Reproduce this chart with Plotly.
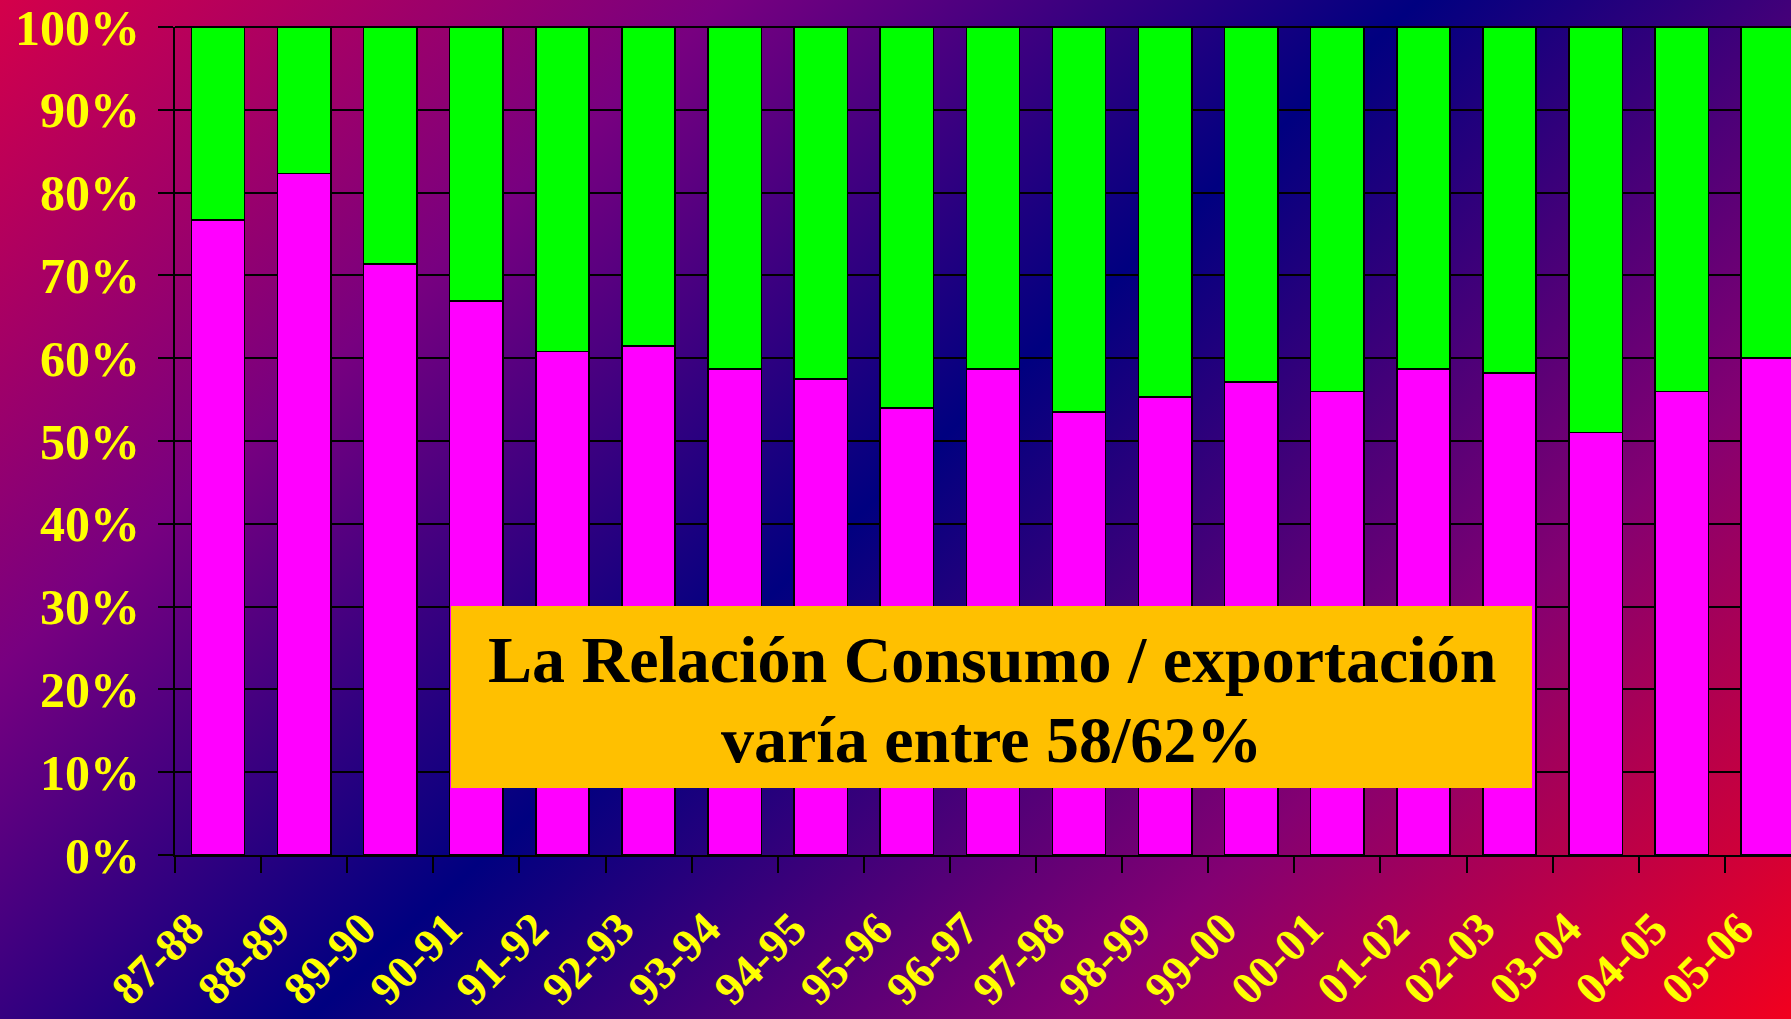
import base64
import plotly.graph_objects as go

# ---- data ----
campanas = ["87-88", "88-89", "89-90", "90-91", "91-92", "92-93", "93-94", "94-95",
            "95-96", "96-97", "97-98", "98-99", "99-00", "00-01", "01-02", "02-03",
            "03-04", "04-05", "05-06"]
consumo = [76.7, 82.3, 71.4, 66.9, 60.8, 61.5, 58.7, 57.5, 54.0, 58.7,
           53.5, 55.3, 57.1, 56.0, 58.7, 58.2, 51.0, 56.0, 60.0]
exportacion = [23.3, 17.7, 28.6, 33.1, 39.2, 38.5, 41.3, 42.5, 46.0, 41.3,
               46.5, 44.7, 42.9, 44.0, 41.3, 41.8, 49.0, 44.0, 40.0]
y_ticks = [0, 10, 20, 30, 40, 50, 60, 70, 80, 90, 100]
y_ticklabels = ["0%", "10%", "20%", "30%", "40%", "50%", "60%", "70%", "80%", "90%", "100%"]
nota_l1 = "La Relación Consumo / exportación"
nota_l2 = "varía entre 58/62%"

# ---- geometry ----
W, H = 1791, 1019
ML, MR, MT, MB = 175, 0, 27, 164
PW, PH = W - ML - MR, H - MT - MB

FONT = "Liberation Serif, Times New Roman, serif"

# background gradient (whole page)
svg = (
    f'<svg xmlns="http://www.w3.org/2000/svg" width="{W}" height="{H}" viewBox="0 0 {W} {H}" '
    f'preserveAspectRatio="none"><defs><linearGradient id="g" gradientUnits="userSpaceOnUse" '
    f'x1="0" y1="0" x2="1326" y2="1446">'
    f'<stop offset="0" stop-color="#D4004A"/>'
    f'<stop offset="0.25" stop-color="#780080"/>'
    f'<stop offset="0.489" stop-color="#000080"/>'
    f'<stop offset="0.75" stop-color="#840072"/>'
    f'<stop offset="1" stop-color="#F2001E"/>'
    f'</linearGradient></defs><rect width="{W}" height="{H}" fill="url(#g)"/></svg>'
)
bg_src = "data:image/svg+xml;base64," + base64.b64encode(svg.encode()).decode()

fig = go.Figure()
fig.add_trace(go.Bar(x=campanas, y=consumo, name="Consumo",
                     marker=dict(color="#FF00FF", line=dict(color="black", width=1.5)),
                     width=0.62))
fig.add_trace(go.Bar(x=campanas, y=exportacion, name="Exportación",
                     marker=dict(color="#00FF00", line=dict(color="black", width=1.5)),
                     width=0.62))

fig.update_layout(
    width=W, height=H,
    margin=dict(l=ML, r=MR, t=MT, b=MB, pad=0, autoexpand=False),
    barmode="stack",
    showlegend=False,
    paper_bgcolor="#000080",
    plot_bgcolor="rgba(0,0,0,0)",
    images=[dict(source=bg_src, xref="paper", yref="paper",
                 x=-ML / PW, y=1 + MT / PH, sizex=W / PW, sizey=H / PH,
                 xanchor="left", yanchor="top", sizing="stretch", layer="below")],
    xaxis=dict(
        type="category",
        automargin=False,
        range=[-0.5, -0.5 + PW / 86.1],
        showgrid=False,
        showline=True, linecolor="black", linewidth=2,
        ticks="outside", tickson="boundaries", ticklen=16, tickwidth=2, tickcolor="black",
        tickangle=-45,
        tickfont=dict(family=FONT, size=46, color="#FFFF00", weight="bold"),
        ticklabelstandoff=26, ticklabelshift=-28,
        ticklabeloverflow="allow",
        fixedrange=True,
    ),
    yaxis=dict(
        automargin=False,
        range=[0, 100],
        tickvals=y_ticks, ticktext=y_ticklabels,
        showgrid=True, gridcolor="black", gridwidth=2,
        zeroline=False,
        showline=True, linecolor="black", linewidth=2,
        ticks="outside", ticklen=15, tickwidth=2, tickcolor="black",
        tickfont=dict(family=FONT, size=50, color="#FFFF00", weight="bold"),
        ticklabelstandoff=8,
        ticklabeloverflow="allow",
        fixedrange=True,
    ),
    shapes=[
        dict(type="line", xref="paper", yref="paper", x0=0, x1=1, y0=1, y1=1,
             line=dict(color="black", width=2), layer="above"),
        dict(type="rect", xref="paper", yref="paper",
             x0=(451 - ML) / PW, x1=(1532 - ML) / PW,
             y0=(H - MB - 788) / PH, y1=(H - MB - 606) / PH,
             fillcolor="#FFC000", line=dict(width=0), layer="above"),
    ],
    annotations=[
        dict(text=nota_l1, xref="paper", yref="paper",
             x=((451 + 1532) / 2 - ML) / PW, y=(H - MB - 659) / PH,
             xanchor="center", yanchor="middle", showarrow=False,
             font=dict(family=FONT, size=66, color="black", weight="bold")),
        dict(text=nota_l2, xref="paper", yref="paper",
             x=((451 + 1532) / 2 - ML) / PW, y=(H - MB - 739) / PH,
             xanchor="center", yanchor="middle", showarrow=False,
             font=dict(family=FONT, size=66, color="black", weight="bold")),
    ],
)

fig.write_html("out.html", config={"displayModeBar": False},
               post_script="document.body.style.margin='0';document.body.style.overflow='hidden';")
